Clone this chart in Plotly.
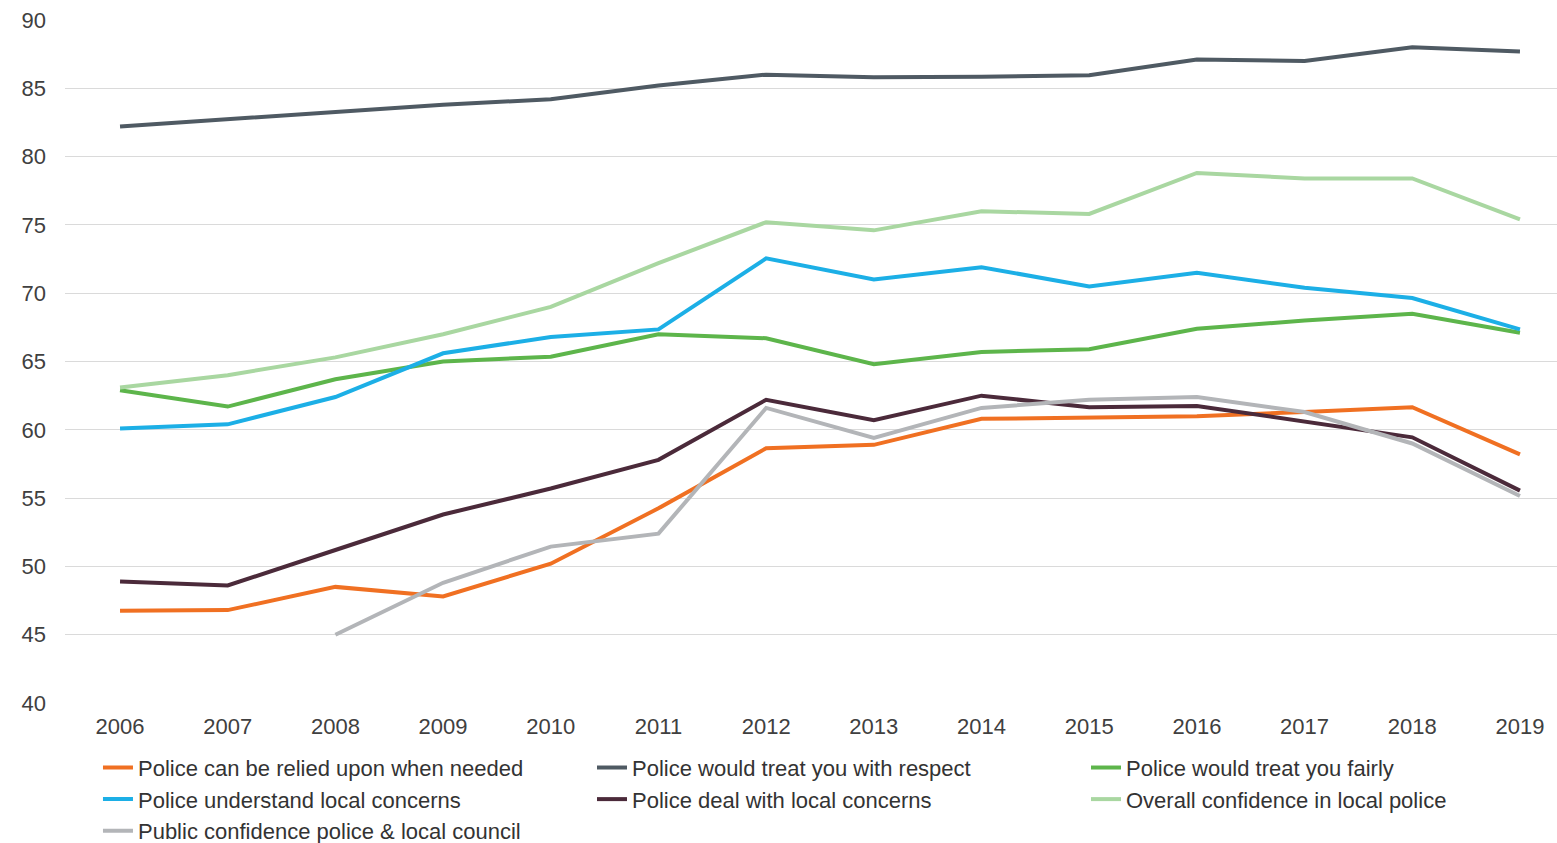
import plotly.graph_objects as go

years = list(range(2006, 2020))

relied = [46.75, 46.8, 48.5, 47.8, 50.2, 54.25, 58.65, 58.9, 60.8, 60.9, 61.0, 61.3, 61.65, 58.2]
respect = [82.2, 82.75, 83.3, 83.8, 84.2, 85.2, 86.0, 85.8, 85.85, 85.95, 87.1, 87.0, 88.0, 87.7]
fairly = [62.9, 61.7, 63.7, 65.0, 65.35, 67.0, 66.7, 64.8, 65.7, 65.9, 67.4, 68.0, 68.5, 67.1]
understand = [60.1, 60.4, 62.4, 65.6, 66.8, 67.35, 72.55, 71.0, 71.9, 70.5, 71.5, 70.4, 69.65, 67.35]
deal = [48.9, 48.6, 51.2, 53.8, 55.7, 57.8, 62.2, 60.7, 62.5, 61.65, 61.75, 60.6, 59.45, 55.55]
overall = [63.1, 64.0, 65.3, 67.0, 69.0, 72.2, 75.2, 74.6, 76.0, 75.8, 78.8, 78.4, 78.4, 75.4]
public = [None, None, 45.0, 48.8, 51.45, 52.4, 61.6, 59.4, 61.6, 62.2, 62.4, 61.3, 59.0, 55.15]

y_ticks = [40, 45, 50, 55, 60, 65, 70, 75, 80, 85, 90]

series = [
    ("Police can be relied upon when needed", relied, "#F07022"),
    ("Police would treat you with respect", respect, "#4F5A63"),
    ("Police would treat you fairly", fairly, "#5DB54B"),
    ("Police understand local concerns", understand, "#1CAFE6"),
    ("Police deal with local concerns", deal, "#4B2A3A"),
    ("Overall confidence in local police", overall, "#A9D7A1"),
    ("Public confidence police & local council", public, "#B3B5B8"),
]

fig = go.Figure()
for name, vals, color in series:
    fig.add_trace(go.Scatter(
        x=years, y=vals, name=name, mode="lines",
        line=dict(color=color, width=4),
        connectgaps=False,
    ))

font_family = "Liberation Sans, Arial, sans-serif"

fig.update_layout(
    width=1557, height=843,
    margin=dict(l=65, r=0, t=20, b=140, autoexpand=False),
    paper_bgcolor="white", plot_bgcolor="white",
    font=dict(family=font_family, size=22, color="#404040"),
    showlegend=True,
    legend=dict(
        orientation="h",
        x=0.0221, xanchor="left",
        y=-0.064, yanchor="top",
        entrywidth=449, entrywidthmode="pixels",
        font=dict(family=font_family, size=22, color="#333333"),
        bgcolor="rgba(0,0,0,0)",
        traceorder="normal",
    ),
    xaxis=dict(
        range=[2005.489, 2019.344],
        tickmode="array", tickvals=years, ticktext=[str(y) for y in years],
        showgrid=False, zeroline=False, showline=False, ticks="",
        ticklabelstandoff=8, automargin=False,
        tickfont=dict(size=22, color="#404040"),
    ),
    yaxis=dict(
        range=[40, 90],
        tickmode="array", tickvals=y_ticks,
        showgrid=True, gridcolor="#DADADA", gridwidth=1,
        zeroline=False, showline=False, ticks="",
        ticklabelstandoff=18, automargin=False,
        tickfont=dict(size=22, color="#404040"),
    ),
)

fig.write_html(
    "out.html",
    config={"displayModeBar": False},
    post_script="document.body.style.margin='0';document.body.style.overflow='hidden';",
)
